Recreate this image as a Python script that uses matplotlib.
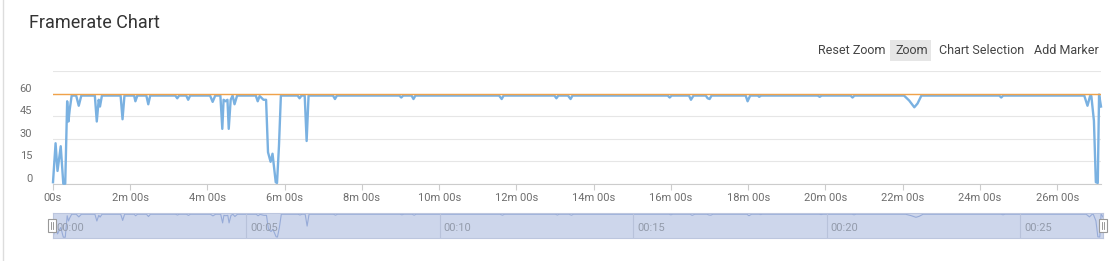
"""Framerate chart with target line, zoom toolbar and a range slider."""

import matplotlib
matplotlib.use("Agg")
import matplotlib.pyplot as plt
import matplotlib.transforms as mtransforms
from matplotlib.patches import Rectangle
from matplotlib.lines import Line2D

plt.rcParams['font.family'] = ['Roboto', 'DejaVu Sans']

TITLE = 'Framerate Chart'
BUTTONS = ['Reset Zoom', 'Zoom', 'Chart Selection', 'Add Marker']
TARGET_FPS = 60

# sampled frame times (seconds) and measured fps
time_s = [0, 4, 7, 12, 16, 19, 22, 24, 26, 29, 36, 40, 44, 65, 68, 71, 73, 76,
          105, 108, 111, 126, 128, 131, 145, 148, 151, 190, 193, 196, 207, 210,
          213, 244, 248, 252, 260, 263, 265, 268, 271, 273, 276, 279, 282, 286,
          315, 318, 321, 327, 331, 334, 338, 341, 346, 348, 351, 354, 380, 383,
          386, 391, 394, 397, 435, 438, 441, 538, 541, 544, 557, 560, 563, 693,
          697, 700, 779, 782, 785, 800, 804, 807, 955, 958, 961, 988, 991, 995,
          1014, 1017, 1020, 1023, 1076, 1079, 1083, 1095, 1097, 1100, 1188, 1191,
          1194, 1239, 1242, 1245, 1322, 1330, 1338, 1343, 1349, 1470, 1473, 1476,
          1602, 1607, 1611, 1613, 1617, 1620, 1623, 1625, 1628]
fps = [1, 27, 8.5, 25, 0, 0, 55, 41.5, 49.6, 58.8, 58.8, 52, 58.8, 58.8, 41.5,
       56, 51.5, 58.8, 58.8, 43, 58.8, 58.8, 55, 58.8, 58.8, 53, 58.8, 58.8, 57,
       58.8, 58.8, 56, 58.8, 58.8, 54.6, 58.8, 58.8, 36.6, 56, 55, 56, 36.6, 56,
       58.8, 53, 58.8, 58.8, 55, 58.5, 56, 56, 21, 14.6, 20, 1, 0.5, 25, 58.8,
       58.8, 57, 58.8, 58.8, 28.5, 58.8, 58.8, 56.5, 58.8, 58.8, 57.5, 58.8, 58.8,
       56.5, 58.8, 58.8, 56.5, 58.8, 58.8, 57, 58.8, 58.8, 56.5, 58.8, 58.8, 57.5,
       58.8, 58.8, 56, 58.8, 58.8, 57, 56.5, 58.8, 58.8, 55, 58.8, 58.8,
       58, 58.8, 58.8, 58, 58.8, 58.8, 57.5, 58.8, 58.8, 55.5, 51, 53.5, 58.8,
       58.8, 57.5, 58.8, 58.8, 52, 58.5, 58.5, 42, 1, 0.5, 59.5, 51.5]

y_ticks = [0, 15, 30, 45, 60]
x_ticks_min = list(range(0, 27, 2))
slider_marks_min = [0, 5, 10, 15, 20, 25]

BLUE = '#7ab1e1'
ORANGE = '#f0a24a'
W, H = 1116, 261

fig = plt.figure(figsize=(W / 100, H / 100), dpi=100)


def box(l, r, top, bot):
    return [l / W, 1 - bot / H, (r - l) / W, (bot - top) / H]


# card border on the left
fig.add_artist(Line2D([3 / W, 3 / W], [0, 1], color='#dddddd', lw=1))

fig.text(29 / W, 1 - 23.5 / H, TITLE, fontsize=13, color='#333333', va='center')

# toolbar
btn_x = [818, 895, 939, 1034]
for x, label in zip(btn_x, BUTTONS):
    if label == 'Zoom':
        fig.add_artist(Rectangle((890 / W, 1 - 61 / H), 41 / W, 21 / H,
                                 facecolor='#e6e6e6', edgecolor='none'))
    fig.text(x / W, 1 - 50.5 / H, label, fontsize=9, color='#444444', va='center')

# main plot
ax = fig.add_axes(box(53, 1101, 71.3, 183.7))
ax.plot(time_s, fps, color=BLUE, lw=1.7, zorder=3, clip_on=False)
ax.axhline(TARGET_FPS, color=ORANGE, lw=1.0, zorder=4)
ax.set_xlim(0, time_s[-1])
ax.set_ylim(0, 75)
ax.set_yticks(y_ticks + [75])
ax.set_yticklabels([str(v) for v in y_ticks] + [''])
ax.grid(axis='y', color='#e6e6e6', lw=0.8)
ax.set_axisbelow(True)
ax.set_xticks([m * 60 for m in x_ticks_min])
ax.set_xticklabels(['00s' if m == 0 else f'{m}m 00s' for m in x_ticks_min])
for s in ['top', 'right', 'left']:
    ax.spines[s].set_visible(False)
ax.spines['bottom'].set_color('#cccccc')
ax.tick_params(axis='x', length=4, color='#cccccc', labelsize=8,
               labelcolor='#6e6e6e', pad=3)
ax.tick_params(axis='y', length=0, labelsize=8, labelcolor='#6e6e6e', pad=15)
offset = mtransforms.ScaledTranslation(0, 6 / 100, fig.dpi_scale_trans)
for lbl in ax.get_yticklabels():
    lbl.set_transform(lbl.get_transform() + offset)

# range slider
sl = fig.add_axes(box(53, 1103, 213, 238))
sl.set_xlim(0, time_s[-1])
sl.set_ylim(-2, 62)
sl.set_facecolor('#cdd6eb')
sl.plot(time_s, fps, color='#97abd8', lw=0.8)
for m in slider_marks_min:
    if m > 0:
        sl.axvline(m * 60, color='#b8c2da', lw=0.8)
    sl.text(m * 60 + 6, 24, f'00:{m:02d}', fontsize=8, color='#939bab',
            va='center', ha='left')
sl.set_xticks([])
sl.set_yticks([])
for s in sl.spines.values():
    s.set_color('#bcc6de')
    s.set_linewidth(0.8)

for hx in (48, 1099):
    fig.add_artist(Rectangle((hx / W, 1 - 232 / H), 8 / W, 13 / H,
                             facecolor='white', edgecolor='#999999', lw=0.8))
    for dx in (2.8, 5.2):
        fig.add_artist(Line2D([(hx + dx) / W] * 2, [1 - 229 / H, 1 - 222 / H],
                              color='#888888', lw=0.6))

fig.savefig('out.png', dpi=100)
